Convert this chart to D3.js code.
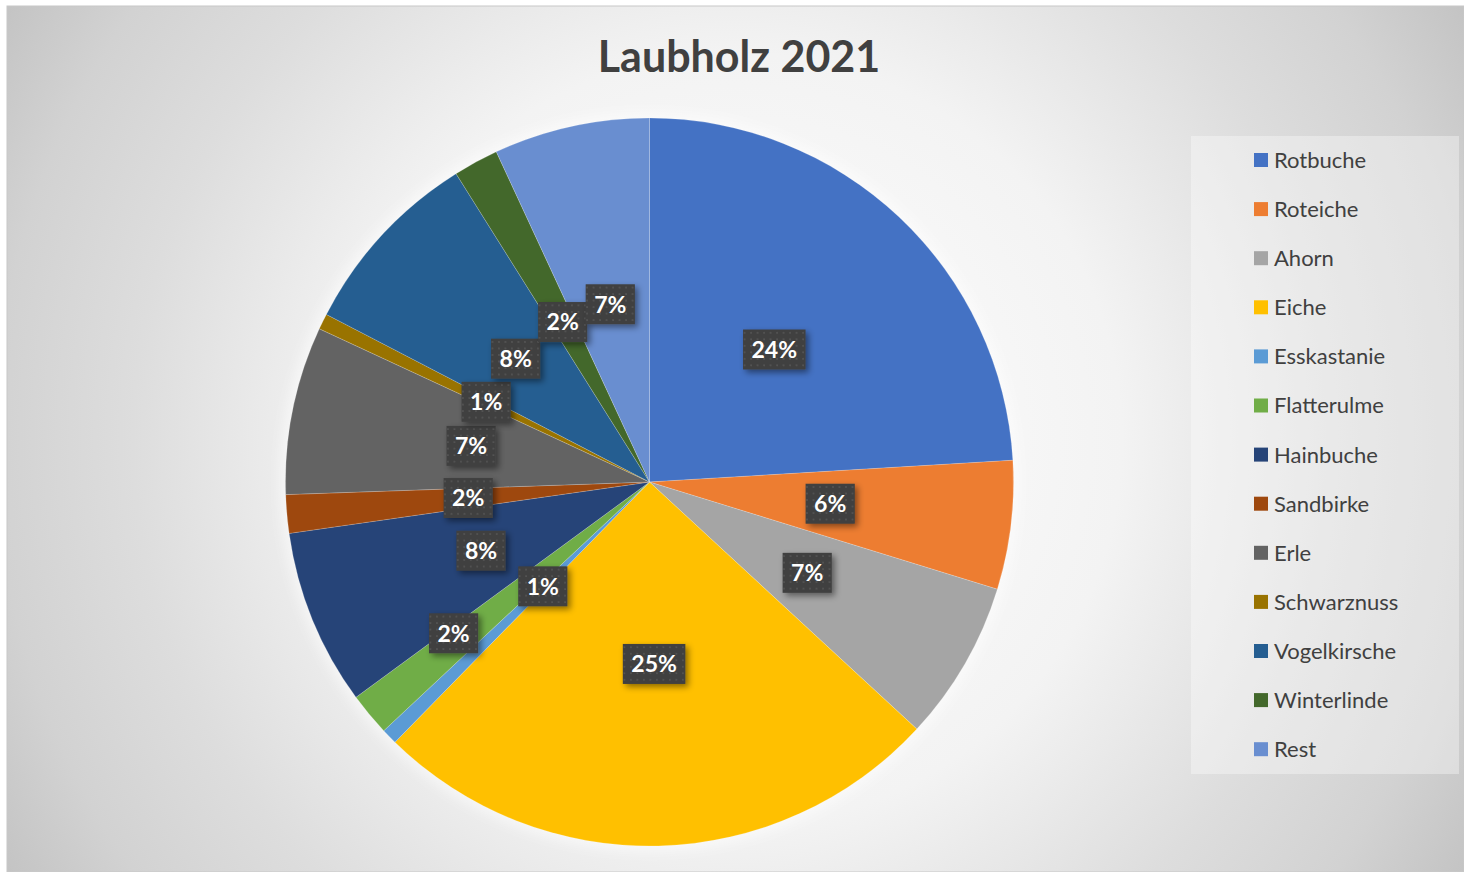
<!DOCTYPE html>
<html>
<head>
<meta charset="utf-8">
<script src="https://cdn.jsdelivr.net/npm/d3@7/dist/d3.min.js"></script>
<style>
html,body{margin:0;padding:0;background:#fff;}
svg{display:block;}
</style>
</head>
<body>
<svg id="chart" width="1464" height="872"></svg>
<script>
const title = "Laubholz 2021";
const categories = ["Rotbuche","Roteiche","Ahorn","Eiche","Esskastanie","Flatterulme","Hainbuche","Sandbirke","Erle","Schwarznuss","Vogelkirsche","Winterlinde","Rest"];
const values = [24.0, 5.7, 7.1, 25.4, 0.7, 1.9, 7.8, 1.7, 7.45, 0.7, 8.45, 2.0, 6.9];
const colors = ["#4472C4","#ED7D31","#A5A5A5","#FFC000","#5B9BD5","#70AD47","#264478","#9E480E","#636363","#997300","#255E91","#43682B","#698ED0"];

const W = 1464, H = 872;
const svg = d3.select("#chart");
const defs = svg.append("defs");

// background gradient (circular, from chart centre)
const bg = defs.append("radialGradient").attr("id","bgGrad")
  .attr("gradientUnits","userSpaceOnUse")
  .attr("cx",735).attr("cy",440).attr("r",860);
[[0,"#ffffff"],[0.45,"#f3f3f3"],[0.7,"#dddddd"],[0.86,"#d2d2d2"],[1,"#c2c2c2"]]
  .forEach(([o,c])=>bg.append("stop").attr("offset",o).attr("stop-color",c));

// label pattern
const pat = defs.append("pattern").attr("id","dots")
  .attr("patternUnits","userSpaceOnUse").attr("width",6.5).attr("height",6.5);
pat.append("rect").attr("width",6.5).attr("height",6.5).attr("fill","#404040");
pat.append("rect").attr("x",2).attr("y",2).attr("width",1.6).attr("height",1.6).attr("fill","#575757");

const shadow = defs.append("filter").attr("id","shadow")
  .attr("x","-30%").attr("y","-30%").attr("width","170%").attr("height","170%");
shadow.append("feDropShadow").attr("dx",3).attr("dy",3).attr("stdDeviation",3)
  .attr("flood-color","#000").attr("flood-opacity",0.45);

const glow = defs.append("filter").attr("id","glow")
  .attr("x","-20%").attr("y","-20%").attr("width","140%").attr("height","140%");
glow.append("feGaussianBlur").attr("stdDeviation",6);

svg.append("rect").attr("x",7).attr("y",6).attr("width",W-7).attr("height",H-6)
  .attr("fill","url(#bgGrad)").attr("stroke","#c8c8c8").attr("stroke-width",1);

// title
svg.append("text").attr("x",739).attr("y",72)
  .attr("text-anchor","middle")
  .attr("font-family","Lato, 'Open Sans', sans-serif")
  .attr("font-weight","bold").attr("font-size",43)
  .attr("fill","#404040").text(title);

// pie
const cx = 649.5, cy = 482, R = 364;
const data = categories.map((c,i)=>({name:c, value:values[i], color:colors[i]}));
const total = d3.sum(values);
const pie = d3.pie().sort(null).value(d=>d.value);
const arcs = pie(data);
const arc = d3.arc().innerRadius(0).outerRadius(R);

const g = svg.append("g").attr("transform",`translate(${cx},${cy})`);
g.append("circle").attr("r",R+6).attr("fill","#ffffff").attr("fill-opacity",0.5).attr("filter","url(#glow)");
g.selectAll("path.slice").data(arcs).enter().append("path")
  .attr("class","slice")
  .attr("d",arc)
  .attr("fill",d=>d.data.color)
  .attr("stroke","#ffffff").attr("stroke-opacity",0.3).attr("stroke-width",0.6);

// labels
const fmt = d3.format(".0%");
const labelAdjust = {Esskastanie:{r:0.41, a:0}, Flatterulme:{r:0.68, a:2}};
const lg = g.append("g");
arcs.forEach(d=>{
  const adj = labelAdjust[d.data.name] || {r:0.5, a:0};
  const mid = (d.startAngle + d.endAngle)/2 + adj.a*Math.PI/180;
  const rr = R*adj.r;
  const x = Math.sin(mid)*rr, y = -Math.cos(mid)*rr;
  const txt = fmt(d.data.value/total);
  const grp = lg.append("g").attr("transform",`translate(${x},${y})`);
  const t = grp.append("text")
    .attr("text-anchor","middle").attr("dy","0.36em")
    .attr("font-family","Lato, 'Open Sans', sans-serif")
    .attr("font-weight","bold").attr("font-size",23)
    .attr("fill","#ffffff").text(txt);
  const bw = t.node().getComputedTextLength() + 17, bh = 40;
  grp.insert("rect","text").attr("x",-bw/2).attr("y",-bh/2)
    .attr("width",bw).attr("height",bh)
    .attr("fill","url(#dots)").attr("filter","url(#shadow)");
});

// legend
const legX = 1191, legY = 136, legW = 268, legH = 638;
svg.append("rect").attr("x",legX).attr("y",legY).attr("width",legW).attr("height",legH)
  .attr("fill","#ffffff").attr("fill-opacity",0.35);
const leg = svg.append("g");
const step = 49.1;
categories.forEach((c,i)=>{
  const yc = 160 + i*step;
  leg.append("rect").attr("x",1254).attr("y",yc-7).attr("width",14).attr("height",14)
    .attr("fill",colors[i]);
  leg.append("text").attr("x",1274).attr("y",yc).attr("dy","0.36em")
    .attr("font-family","Lato, 'Open Sans', sans-serif")
    .attr("font-size",22).attr("fill","#404040").text(c);
});
</script>
</body>
</html>
